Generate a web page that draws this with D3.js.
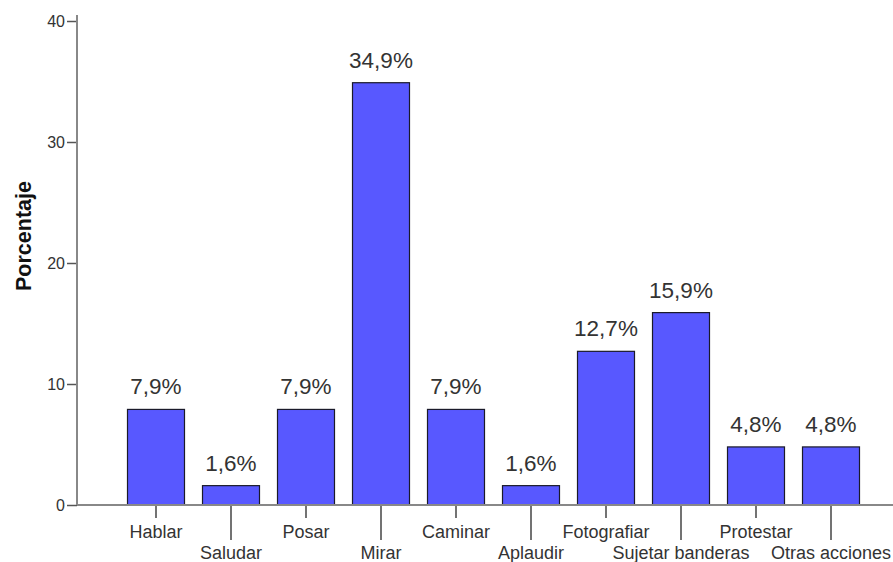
<!DOCTYPE html>
<html><head><meta charset="utf-8">
<script src="https://cdn.jsdelivr.net/npm/d3@7"></script>
<style>body{margin:0;background:#fff}svg{display:block}</style>
</head><body>
<script>
const categories = ["Hablar","Saludar","Posar","Mirar","Caminar","Aplaudir","Fotografiar","Sujetar banderas","Protestar","Otras acciones"];
const values = [7.9,1.6,7.9,34.9,7.9,1.6,12.7,15.9,4.8,4.8];
const yTicks = [0,10,20,30,40];
const yTitle = "Porcentaje";

const W = 893, H = 562;
const svg = d3.select("body").append("svg").attr("width", W).attr("height", H);
const font = "'Liberation Sans', Arial, sans-serif";

const x = d3.scaleBand().domain(categories).range([118.5, 868.5]).paddingInner(0.24).paddingOuter(0.12);
const y = d3.scaleLinear().domain([0, 40]).range([505, 21]);
const axisX = 77;

// y axis
const ya = svg.append("g").attr("transform", `translate(${axisX},0)`)
  .call(d3.axisLeft(y).tickValues(yTicks).tickSize(10).tickPadding(2));
ya.attr("font-size", 16).attr("font-family", font);
ya.select(".domain").remove();
ya.selectAll(".tick line").attr("stroke", "#555").attr("stroke-width", 1.5);
ya.selectAll(".tick text").attr("fill", "#333");
svg.append("line").attr("x1", axisX).attr("x2", axisX).attr("y1", 15).attr("y2", y(0))
  .attr("stroke", "#888").attr("stroke-width", 2);

// bars
svg.append("g").selectAll("rect").data(values).join("rect")
  .attr("x", (d,i) => x(categories[i]))
  .attr("width", x.bandwidth())
  .attr("y", d => y(d))
  .attr("height", d => y(0) - y(d))
  .attr("fill", "#5858ff")
  .attr("stroke", "#1a1a2a")
  .attr("stroke-width", 1.2);

// x axis
svg.append("line").attr("x1", axisX).attr("x2", W).attr("y1", y(0)).attr("y2", y(0))
  .attr("stroke", "#888").attr("stroke-width", 2);
const xa = svg.append("g").attr("transform", `translate(0,${y(0)})`)
  .call(d3.axisBottom(x).tickSize(0));
xa.attr("font-size", 18).attr("font-family", font);
xa.select(".domain").remove();
xa.selectAll(".tick line")
  .attr("y1", 1)
  .attr("y2", (d,i) => i % 2 === 0 ? 13 : 35)
  .attr("stroke", "#444").attr("stroke-width", 1.5);
xa.selectAll(".tick text")
  .attr("fill", "#333")
  .attr("dy", null)
  .attr("y", (d,i) => i % 2 === 0 ? 33 : 54);

// value labels
svg.append("g").selectAll("text").data(values).join("text")
  .attr("x", (d,i) => x(categories[i]) + x.bandwidth()/2)
  .attr("y", d => y(d) - 15)
  .attr("text-anchor", "middle")
  .attr("font-family", font).attr("font-size", 22.5).attr("fill", "#333")
  .text(d => d.toFixed(1).replace(".", ",") + "%");

// y title
svg.append("text")
  .attr("transform", `translate(31,236) rotate(-90)`)
  .attr("text-anchor", "middle")
  .attr("font-family", font).attr("font-size", 21.5).attr("font-weight", "bold").attr("fill", "#111")
  .text(yTitle);
</script>
</body></html>
